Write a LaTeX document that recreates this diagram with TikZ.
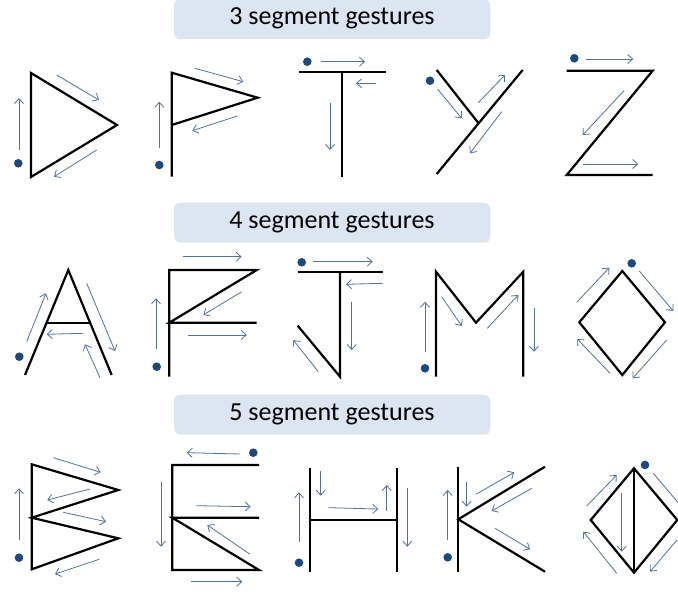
\documentclass[tikz,border=0pt]{standalone}
\usepackage{fontspec}
\setmainfont{Carlito}
\usetikzlibrary{arrows.meta,shadows}
\definecolor{boxblue}{RGB}{220,230,242}
\definecolor{hintblue}{RGB}{84,113,150}
\definecolor{dotblue}{RGB}{31,73,125}

\begin{document}
\begin{tikzpicture}[x=1pt,y=-1pt,
  glyph/.style={line width=2.2pt},
  hint/.style={hintblue,line width=0.8pt,-{Straight Barb[length=5pt,width=9pt]}},
  startdot/.style={fill=dotblue},
  titlebox/.style={fill=boxblue,rounded corners=6pt,minimum width=316pt,minimum height=39pt,
    inner sep=0pt,font=\fontsize{26}{30}\selectfont,
    drop shadow={opacity=0.2,shadow xshift=0.4pt,shadow yshift=-1.2pt}}]
\useasboundingbox (0,0) rectangle (678,594);
\node[titlebox] (title3) at (332,18.5) {3 segment gestures};
\node[titlebox] (title4) at (332,222) {4 segment gestures};
\node[titlebox] (title5) at (332,414) {5 segment gestures};

\draw[glyph] (31,73) -- (117,125) -- (31,177) -- cycle;
\fill[startdot] (18.3,163.3) circle (4.3pt);
\draw[hint] (19,150) -- (19,98);
\draw[hint] (56.7,75) -- (99,100);
\draw[hint] (96.7,150) -- (54,176.7);

\draw[glyph] (171.7,176.7) -- (171.7,72.7) -- (257.7,97.7) -- (171.7,125);
\fill[startdot] (159.3,165) circle (4.3pt);
\draw[hint] (159.3,148.3) -- (159.3,101.7);
\draw[hint] (195,68.3) -- (243.3,81.7);
\draw[hint] (237.3,116) -- (192.3,130.7);

\draw[glyph] (299.3,71.7) -- (386,71.7);
\draw[glyph] (342.3,71.7) -- (342.3,176.7);
\fill[startdot] (307.3,61.7) circle (4.3pt);
\draw[hint] (320.7,61.7) -- (365,61.7);
\draw[hint] (375.7,83.3) -- (356,83.3);
\draw[hint] (330,102.7) -- (330,150);

\draw[glyph] (436.7,70) -- (478.6,123.3);
\draw[glyph] (522.7,70) -- (436.7,174);
\fill[startdot] (430,80.7) circle (4.3pt);
\draw[hint] (437.7,89.3) -- (461.7,118.3);
\draw[hint] (478.3,102.7) -- (505,75);
\draw[hint] (501.7,111.7) -- (470,153.3);

\draw[glyph] (566.7,70.7) -- (652.7,70.7) -- (566.7,175) -- (652.7,175);
\fill[startdot] (574.3,58.3) circle (4.3pt);
\draw[hint] (586,59) -- (633.3,59);
\draw[hint] (624,90.7) -- (582.7,135);
\draw[hint] (583.3,164) -- (638.3,164);

\draw[glyph] (25,375) -- (68.3,270) -- (111.7,375);
\draw[glyph] (46.3,323.3) -- (90.4,323.3);
\fill[startdot] (19.3,356.7) circle (4.3pt);
\draw[hint] (26.7,341.7) -- (46,293.3);
\draw[hint] (86.7,283.3) -- (115,351);
\draw[hint] (100,377.7) -- (85,344.3);
\draw[hint] (83.3,333.3) -- (46.7,334.3);

\draw[glyph] (169.3,376.7) -- (169.3,270) -- (256.7,270) -- (169.3,322.7) -- (256.7,322.7);
\fill[startdot] (156.7,366.7) circle (4.3pt);
\draw[hint] (156,349) -- (156,298.3);
\draw[hint] (182.7,256.7) -- (241.7,256.7);
\draw[hint] (241.7,291.7) -- (203.3,315);
\draw[hint] (188.3,335) -- (246.7,335);

\draw[glyph] (297.7,272.3) -- (383.3,272.3);
\draw[glyph] (340,272.3) -- (340,376.7) -- (297.7,325.7);
\fill[startdot] (301.7,262.3) circle (4.3pt);
\draw[hint] (313.3,261.7) -- (372.7,261.7);
\draw[hint] (383.3,283.3) -- (346,284.3);
\draw[hint] (351.7,301.7) -- (351.7,350);
\draw[hint] (318.3,371.7) -- (293.3,340);

\draw[glyph] (436,376.7) -- (436,271.7) -- (476,322.7) -- (523.3,271.7) -- (523.3,376.7);
\fill[startdot] (425,368.3) circle (4.3pt);
\draw[hint] (425,351.7) -- (425,301.7);
\draw[hint] (441.7,296.7) -- (461.7,326);
\draw[hint] (487.3,328.3) -- (518.3,295);
\draw[hint] (534,308.3) -- (534,351.7);

\draw[glyph] (622.3,271) -- (665,322.3) -- (622.3,375) -- (579.3,322.3) -- cycle;
\fill[startdot] (631.7,263.3) circle (4.3pt);
\draw[hint] (639.3,271) -- (673.3,311);
\draw[hint] (666.7,340) -- (632.7,378.3);
\draw[hint] (610,373.3) -- (577.3,339);
\draw[hint] (576.7,302.3) -- (609.3,267.7);

\draw[glyph] (31.7,464.3) -- (118.3,490) -- (31.7,517.7) -- (118.3,538.3) -- (31.7,569.3) -- cycle;
\fill[startdot] (19,557.7) circle (4.3pt);
\draw[hint] (19,540) -- (19,488.3);
\draw[hint] (53.3,457.7) -- (100.7,472.3);
\draw[hint] (90,489) -- (47.3,500);
\draw[hint] (63.3,512.3) -- (106,521.7);
\draw[hint] (99.3,559.3) -- (55,574);

\draw[glyph] (259,465) -- (172.3,465) -- (172.3,570) -- (259,570) -- (172.3,517.7) -- (259,517.7);
\fill[startdot] (253.3,452.7) circle (4.3pt);
\draw[hint] (240,454) -- (186.7,452.7);
\draw[hint] (161,482.3) -- (161,546.7);
\draw[hint] (190.7,581.7) -- (242.3,581.7);
\draw[hint] (250,554.3) -- (207.3,525);
\draw[hint] (196,505.7) -- (250.7,506.7);

\draw[glyph] (310,467.7) -- (310,572.3);
\draw[glyph] (310,520) -- (396.7,520);
\draw[glyph] (396.7,467.7) -- (396.7,572.3);
\fill[startdot] (299,562.7) circle (4.3pt);
\draw[hint] (299,541.7) -- (299,492.3);
\draw[hint] (320.7,471) -- (320.7,495.7);
\draw[hint] (328.3,507.7) -- (378.3,509);
\draw[hint] (386.7,511) -- (386.7,485);
\draw[hint] (407.3,488.3) -- (407.3,546.7);

\draw[glyph] (458.3,466.7) -- (458.3,571.7);
\draw[glyph] (545,466.7) -- (458.3,519.3) -- (545,571.7);
\fill[startdot] (447.7,557.3) circle (4.3pt);
\draw[hint] (447.7,540) -- (447.7,490);
\draw[hint] (466.7,481.7) -- (466.7,506.7);
\draw[hint] (476,494.3) -- (514.3,472.3);
\draw[hint] (531.7,488.3) -- (491.7,511);
\draw[hint] (495,528.3) -- (530,549.3);

\draw[glyph] (634,468.3) -- (677.3,520) -- (634,572.7) -- (590.7,520) -- cycle;
\draw[glyph] (634,468.3) -- (634,572.7);
\fill[startdot] (645,465) circle (4.3pt);
\draw[hint] (653.3,473.3) -- (686,512);
\draw[hint] (677,540) -- (650,571.7);
\draw[hint] (616.7,573.3) -- (583.3,531.7);
\draw[hint] (586.7,506) -- (616.7,475);
\draw[hint] (621.7,493.3) -- (621.7,551.7);
\end{tikzpicture}
\end{document}
